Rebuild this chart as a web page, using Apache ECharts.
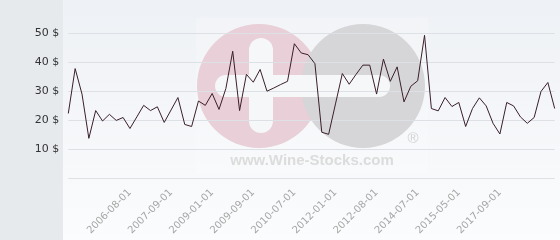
<!DOCTYPE html>
<html>
<head>
<meta charset="utf-8">
<script src="https://cdn.jsdelivr.net/npm/echarts@6/dist/echarts.min.js"></script>
<style>html,body{margin:0;padding:0;background:#fff}#c{width:560px;height:240px}</style>
</head>
<body>
<div id="c"></div>
<script>
const prices = [22.3, 37.8, 29, 13.7, 23.3, 19.7, 22, 19.9, 20.9, 17.1,
  21.1, 25.1, 23.3, 24.6, 19.2, 23.5, 27.8, 18.5, 17.8, 26.6,
  25.1, 29.2, 23.7, 30.9, 43.8, 23.3, 35.8, 33.1, 37.5, 30,
  31.1, 32.3, 33.4, 46.4, 43.2, 42.6, 39.5, 15.8, 15.1, 25.6,
  36.1, 32.4, 35.8, 39, 39, 29, 41.1, 33.4, 38.4, 26.3,
  31.7, 33.6, 49.3, 24, 23.2, 27.8, 24.7, 26.1, 17.8, 24,
  27.7, 24.9, 18.9, 15.2, 26.1, 24.9, 21.1, 18.9, 20.9, 29.9,
  33, 24];
const tickIndex = [9, 15, 21, 27, 33, 39, 45, 51, 57, 63];
const tickLabels = ['2006-08-01', '2007-09-01', '2009-01-01', '2009-09-01', '2010-07-01',
  '2012-01-01', '2012-08-01', '2014-07-01', '2015-05-01', '2017-09-01'];
const yTicks = [0, 10, 20, 30, 40, 50];
const categories = prices.map((_, i) => String(i));

const chart = echarts.init(document.getElementById('c'), null, {renderer: 'canvas'});
chart.setOption({
  animation: false,
  backgroundColor: '#ffffff',
  graphic: [
    {type: 'rect', z: -30, shape: {x: 0, y: 0, width: 63, height: 240}, style: {fill: '#e6eaed'}},
    {type: 'rect', z: -30, shape: {x: 63, y: 0, width: 497, height: 240},
      style: {fill: new echarts.graphic.LinearGradient(0, 0, 0, 1, [
        {offset: 0, color: '#eef1f5'}, {offset: 1, color: '#fbfcfd'}])}},
    {type: 'rect', z: -25, shape: {x: 196, y: 18, width: 232, height: 156}, style: {fill: 'rgba(255,255,255,0.2)'}},
    {type: 'circle', z: -20, shape: {cx: 259, cy: 86, r: 62}, style: {fill: '#e9cfd7'}},
    {type: 'circle', z: -19, shape: {cx: 363, cy: 86, r: 62}, style: {fill: '#d6d6d8'}},
    {type: 'rect', z: -18, shape: {x: 249, y: 38, width: 24, height: 95, r: 12}, style: {fill: '#f6f7f9'}},
    {type: 'rect', z: -18, shape: {x: 215, y: 75, width: 175, height: 22, r: 11}, style: {fill: '#f6f7f9'}},
    {type: 'text', z: -18, style: {x: 413, y: 139, text: '®', font: '15px "Liberation Sans"', fill: '#d2d2d4', align: 'center', verticalAlign: 'middle'}},
    {type: 'text', z: -18, style: {x: 312, y: 161, text: 'www.Wine-Stocks.com', font: 'bold 15px "Liberation Sans"', fill: '#dcdcdc', align: 'center', verticalAlign: 'middle'}}
  ],
  grid: {left: 68.3, right: 5.3, top: 33.3, bottom: 62, containLabel: false},
  xAxis: {
    type: 'category',
    data: categories,
    boundaryGap: false,
    axisLine: {show: false},
    axisTick: {show: false},
    splitLine: {show: false},
    axisLabel: {
      interval: (i) => tickIndex.includes(i),
      formatter: (v, i) => tickLabels[tickIndex.indexOf(i)] || '',
      rotate: 45,
      margin: 13,
      color: '#a6a6a6',
      fontSize: 10,
      fontFamily: 'DejaVu Sans'
    }
  },
  yAxis: {
    type: 'value',
    min: yTicks[0],
    max: yTicks[yTicks.length - 1],
    interval: 10,
    axisLine: {show: false},
    axisTick: {show: false},
    splitLine: {show: true, lineStyle: {color: '#dde0e4', width: 1}},
    axisLabel: {
      formatter: (v) => v === 0 ? '' : v + ' $',
      margin: 9,
      color: '#333333',
      fontSize: 11,
      fontFamily: 'DejaVu Sans'
    }
  },
  series: [{
    type: 'line',
    data: prices,
    symbol: 'none',
    lineStyle: {color: '#3a1f2a', width: 1},
    z: 5
  }]
});
</script>
</body>
</html>
